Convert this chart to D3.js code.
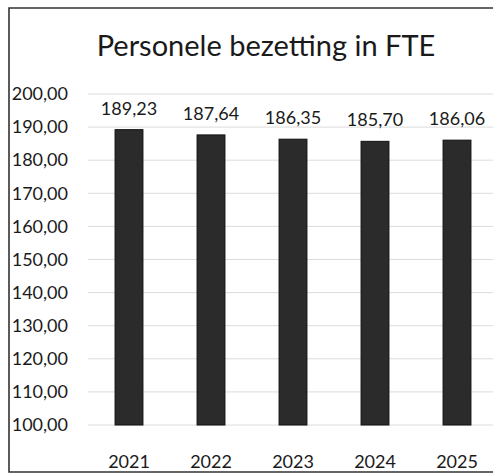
<!DOCTYPE html>
<head>
<meta charset="utf-8">
<title>Personele bezetting in FTE</title>
<style>
body { margin: 0; background: #fff; }
text { font-family: Lato, "Open Sans", sans-serif; fill: #1a1a1a; }
.grid line { stroke: #dcdcdc; stroke-width: 1px; }
</style>
</head>
<body>
<script src="https://cdnjs.cloudflare.com/ajax/libs/d3/7.8.5/d3.min.js"></script>
<script>

var years = ["2021", "2022", "2023", "2024", "2025"];
var fte = [189.23, 187.64, 186.35, 185.70, 186.06];
var yTicks = [100, 110, 120, 130, 140, 150, 160, 170, 180, 190, 200];

var width = 493,
    height = 475;

var fmt = function(v) { return v.toFixed(2).replace(".", ","); };

var svg = d3.select("body").append("svg")
    .attr("width", width)
    .attr("height", height);

var x = d3.scaleBand()
    .domain(years)
    .range([88, 498])
    .paddingInner(0.66)
    .paddingOuter(0.33);

var y = d3.scaleLinear()
    .domain([100, 200])
    .range([425, 94]);

// frame (right edge is cut off in the scan)
svg.append("path")
    .attr("d", "M" + (width + 2) + ",8 L9,8 L9,472 L" + (width + 2) + ",472")
    .attr("fill", "none")
    .attr("stroke", "#333")
    .attr("stroke-width", 1.6);

// title
svg.append("text")
    .attr("x", 266)
    .attr("y", 56)
    .attr("text-anchor", "middle")
    .style("font-size", "29px")
    .text("Personele bezetting in FTE");

// gridlines
svg.append("g")
    .attr("class", "grid")
    .selectAll("line")
    .data(yTicks)
    .enter().append("line")
    .attr("x1", 88)
    .attr("x2", width)
    .attr("y1", function(d) { return y(d); })
    .attr("y2", function(d) { return y(d); });

// y axis labels
var yAxis = svg.append("g")
    .attr("transform", "translate(68,0)")
    .call(d3.axisLeft(y).tickValues(yTicks).tickFormat(fmt).tickSize(0).tickPadding(0));
yAxis.select(".domain").remove();
yAxis.selectAll("text")
    .style("font-size", "18px")
    .style("font-family", "Lato, sans-serif")
    .attr("fill", "#1a1a1a");

// x axis labels
var xAxis = svg.append("g")
    .attr("transform", "translate(0,468)")
    .call(d3.axisBottom(x).tickSize(0).tickPadding(0));
xAxis.select(".domain").remove();
xAxis.selectAll("text")
    .attr("dy", 0)
    .style("font-size", "18px")
    .style("font-family", "Lato, sans-serif")
    .attr("fill", "#1a1a1a");

var data = years.map(function(yr, i) { return {year: yr, value: fte[i]}; });

// bars
svg.selectAll(".bar")
    .data(data)
    .enter().append("rect")
    .attr("class", "bar")
    .attr("x", function(d) { return x(d.year); })
    .attr("width", x.bandwidth())
    .attr("y", function(d) { return y(d.value); })
    .attr("height", function(d) { return y(100) - y(d.value); })
    .attr("fill", "#2b2b2b")
    .attr("stroke", "#111")
    .attr("stroke-width", 1);

// value labels
svg.selectAll(".label")
    .data(data)
    .enter().append("text")
    .attr("class", "label")
    .attr("x", function(d) { return x(d.year) + x.bandwidth() / 2; })
    .attr("y", function(d) { return y(d.value) - 15; })
    .attr("text-anchor", "middle")
    .style("font-size", "18px")
    .text(function(d) { return fmt(d.value); });

</script>
</body>
</html>
